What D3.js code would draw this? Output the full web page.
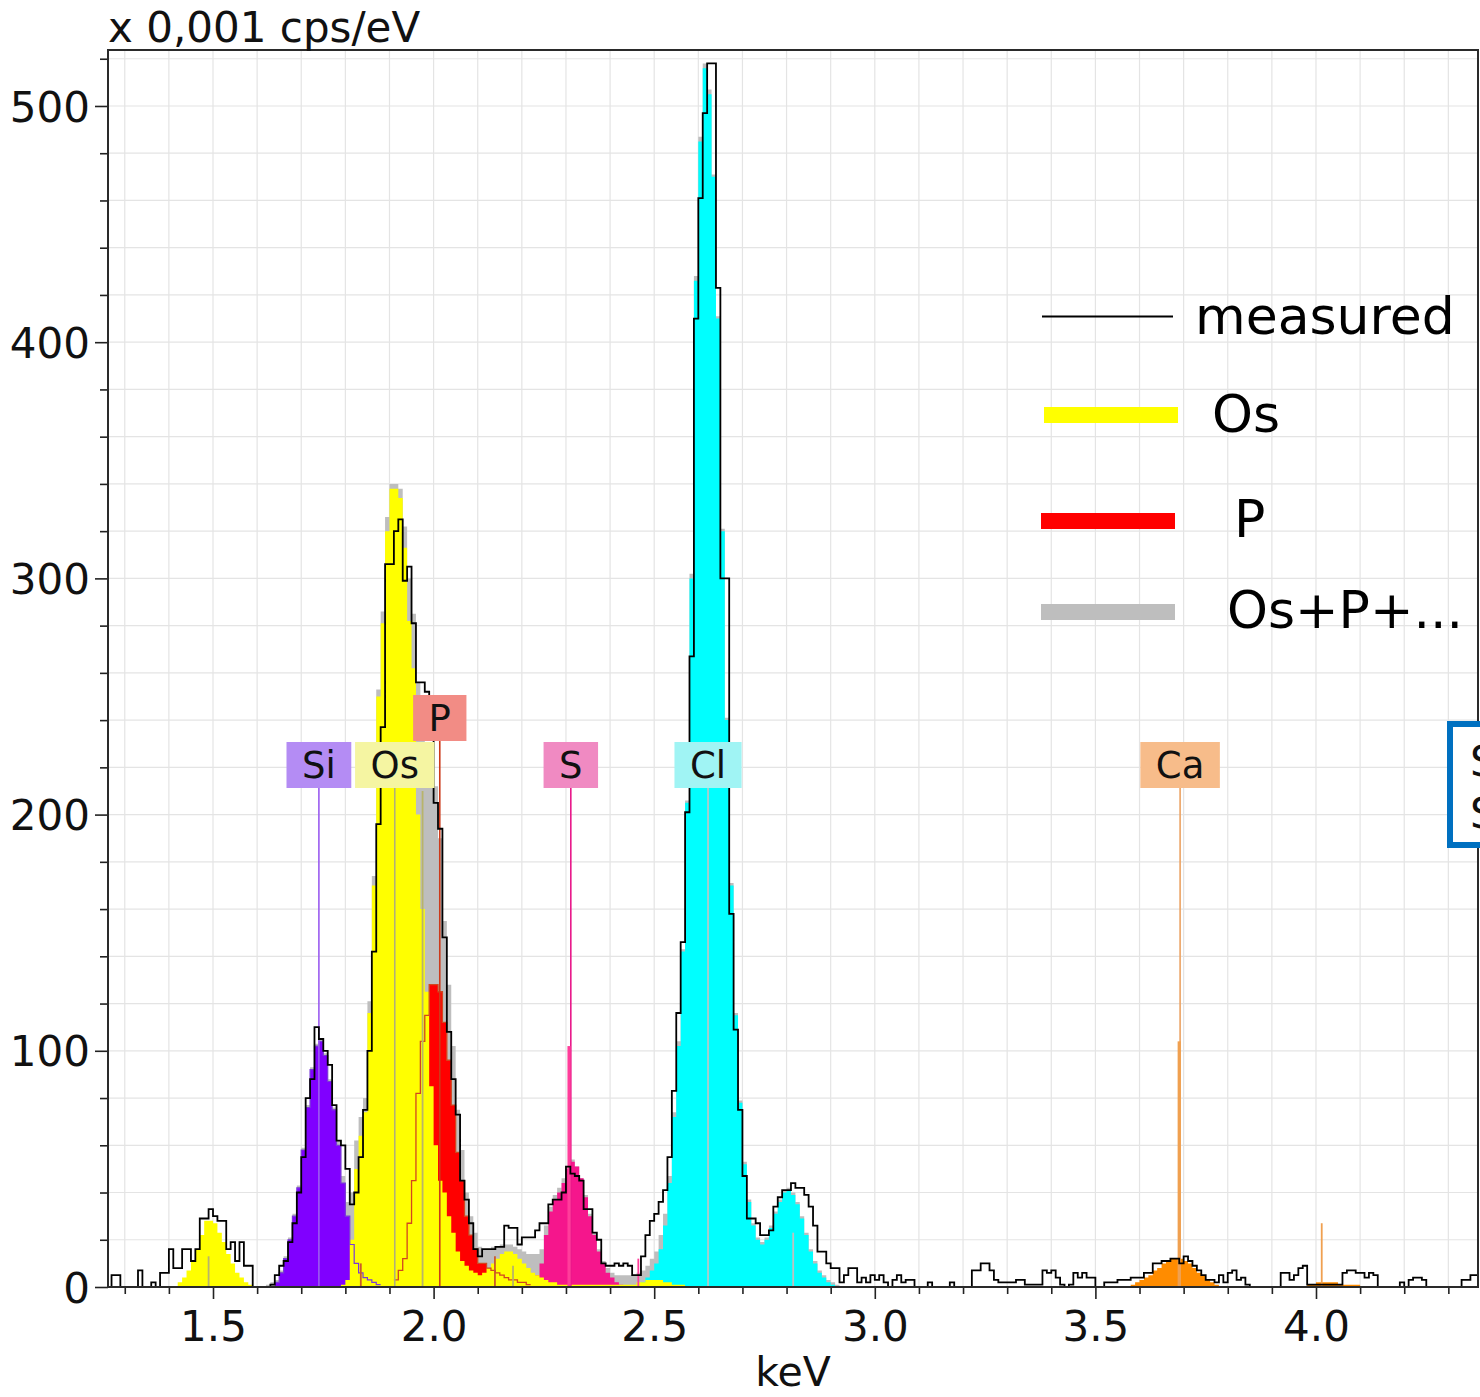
<!DOCTYPE html>
<html><head><meta charset="utf-8">
<script src="https://cdn.jsdelivr.net/npm/d3@7"></script>
<style>body{margin:0;background:#fff}svg{display:block}</style>
</head><body>
<svg id="chart" width="1480" height="1397"></svg>
<script>
// ---------- DATA ----------
const channelStartKeV = 1.26;
const channelWidthKeV = 0.01;

// measured spectrum (x 0.001 cps/eV), one value per 10 eV channel from 1.26 keV
const measured = [
0,5,5,0,0,0,0,7,0,0,
2,0,6,6,16,8,8,16,16,11,
16,29,29,33,30,28,28,16,19,11,
19,9,9,0,0,0,0,1,5,9,
11,19,27,40,55,80,88,110,105,100,
94,77,62,60,50,35,40,55,75,100,
142,196,237,306,306,320,325,299,305,281,
256,256,252,250,205,194,148,108,88,73,
45,37,27,16,13,16,16,16,17,17,
26,25,25,18,21,21,21,24,27,27,
35,37,37,40,51,48,47,45,33,33,
23,20,10,9,9,10,9,10,9,5,
5,13,22,28,31,36,41,55,83,116,
146,201,267,410,461,497,518,518,423,300,
300,158,109,75,47,29,29,27,22,22,
24,34,38,41,41,44,42,42,39,34,
26,15,15,10,8,8,2,5,8,8,
2,4,2,5,3,5,2,0,3,5,
2,3,3,0,0,0,2,0,0,0,
0,2,0,0,0,0,7,7,10,10,
7,3,2,2,2,2,3,3,1,1,
1,1,7,6,7,4,1,0,1,6,
4,6,4,4,0,0,2,2,2,3,
3,3,4,4,4,6,6,10,10,11,
11,12,12,10,13,11,9,7,5,3,
3,2,5,2,6,7,3,4,1,0,
0,0,0,0,0,0,6,6,3,5,
8,9,1,1,1,1,1,1,1,1,
6,7,7,6,6,4,6,5,0,0,
0,0,0,2,0,3,4,4,3,0,
0,0,0,0,0,0,0,3,3,5,
5,5];

// fitted total (Os+P+...)
const totalStartKeV = 1.60;
const totalFit = [
0,0,1,2,3,7,13,21,31,43,
59,77,93,103,105,99,88,76,62,47,
36,40,62,72,80,121,174,253,286,326,
340,340,338,322,300,285,256,240,228,215,
212,190,155,128,102,75,58,40,30,23,
17,16,16,17,17,18,18,18,17,16,
15,14,14,14,16,26,34,39,42,46,
51,54,51,46,39,31,23,16,11,8,
6,5,5,5,5,5,6,7,9,12,
15,22,31,47,74,104,143,206,302,428,
487,518,507,471,411,321,241,171,116,79,
53,37,27,21,19,21,26,32,37,41,
42,40,36,30,23,16,11,7,5,3,
2,1];

const osStartKeV = 1.40;
const osFit = [
0,0,2,4,7,11,16,22,28,28,
27,23,19,14,10,6,4,2,1,0,
0,0,0,0,0,0,0,0,0,0,
0,0,0,0,0,0,0,0,0,1,
3,20,50,64,74,116,170,250,281,320,
338,338,334,313,282,262,200,160,125,85,
60,45,40,30,23,15,11,9,7,6,
5,6,8,10,12,14,15,15,14,12,
10,8,6,5,4,3,2,2,1,1,
1,1,1,1,1,1,1,1,1,1,
1,1,1,1,1,1,2,2,3,3,
3,3,2,2,1,1,1];

const siStartKeV = 1.64;
const siFit = [2,6,12,20,30,42,58,76,92,102,104,98,87,75,60,44,30,18,10,6,4,3,2,1];

const pStartKeV = 1.91;
const pFit = [3,7,12,27,45,82,104,115,128,128,125,112,96,77,57,45,30,22,16,10,10,8,7,6,5,4,3,3,2,2,1];

const sStartKeV = 2.22;
const sFit = [2,5,10,22,32,37,40,44,50,53,51,46,38,30,22,15,10,6,4,2,1];

const clStartKeV = 2.46;
const clFit = [
1,2,4,7,10,16,26,44,72,102,
142,205,300,426,485,516,505,470,410,320,
240,170,115,78,52,36,26,20,18,20,
25,31,36,40,41,39,35,29,22,15,
10,6,4,2,1];

const caStartKeV = 3.58;
const caFit = [
1,2,3,4,5,7,8,10,11,12,
12,12,11,10,8,6,5,3,2,1,
0,0,0,0,0,0,0,0,0,0,
0,0,0,0,0,0,0,0,0,0,
1,1,2,2,2,2,2,1,1,1,1,1];

// element labels
const labelNames = ["Si","Os","P","S","Cl","Ca"];
const labelKeV   = [1.740, 1.912, 2.014, 2.311, 2.622, 3.692];

// characteristic line sticks
const stickKeV    = [1.490, 1.835, 1.975, 2.139, 2.180, 2.307, 2.464, 2.815, 3.690, 4.013];
const stickHeight = [13, 10, 210, 13, 9, 102, 12, 23, 104, 27];
const stickElem   = ["Os","P","Os","P","Os","S","S","Cl","Ca","Ca"];

// axis ticks
const yMajorTicks = [0,100,200,300,400,500];
const xMajorTicks = [1.5,2.0,2.5,3.0,3.5,4.0];

const legendNames = ["measured","Os","P","Os+P+..."];

// ---------- STYLE ----------
const fillColor  = {Si:"#8000ff", Os:"#ffff00", P:"#ff0000", S:"#f5168c", Cl:"#00ffff", Ca:"#ff8c00", total:"#bebebe"};
const boxColor   = {Si:"#b48cf4", Os:"#f5f5a2", P:"#f28c85", S:"#f08ac2", Cl:"#a0f4f4", Ca:"#f7bc8a"};
const markColor  = {Si:"#9a5cf0", Os:"#b0b07a", P:"#cc3a1a", S:"#e8188a", Cl:"#c4c4c4", Ca:"#eba262"};
const stickColor = {Os:"#b8b46a", P:"#cc5a2a", S:"#ff3d9a", Cl:"#c0c0c0", Ca:"#f0a050"};
const FONT = '"DejaVu Sans", Verdana, sans-serif';

// ---------- CHART ----------
const svg = d3.select("#chart");
const X0 = 108, X1 = 1478, Y0 = 1287, Y1 = 50;
const x = d3.scaleLinear().domain([1.2620, 4.3672]).range([X0, X1]);
const y = d3.scaleLinear().domain([0, 523.7]).range([Y0, Y1]);

svg.append("defs").append("clipPath").attr("id","plotclip")
  .append("rect").attr("x",X0).attr("y",Y1).attr("width",X1-X0).attr("height",Y0-Y1);

// grid
const grid = svg.append("g").attr("stroke","#e4e4e4").attr("stroke-width",1.2);
d3.range(13,44).map(i=>i/10).forEach(v=>{
  grid.append("line").attr("x1",x(v)).attr("x2",x(v)).attr("y1",Y1).attr("y2",Y0);
});
d3.range(20,521,20).forEach(v=>{
  grid.append("line").attr("x1",X0).attr("x2",X1).attr("y1",y(v)).attr("y2",y(v));
});

function stepPoints(arr, startKeV){
  const pts = arr.map((v,i)=>[startKeV + i*channelWidthKeV, v]);
  pts.push([startKeV + arr.length*channelWidthKeV, arr[arr.length-1]]);
  return pts;
}
const area = d3.area().curve(d3.curveStepAfter).x(d=>x(d[0])).y0(y(0)).y1(d=>y(d[1]));
const line = d3.line().curve(d3.curveStepAfter).x(d=>x(d[0])).y(d=>y(d[1]));

const plot = svg.append("g").attr("clip-path","url(#plotclip)");

// fills
const fills = [
  [totalFit, totalStartKeV, fillColor.total],
  [clFit, clStartKeV, fillColor.Cl],
  [sFit, sStartKeV, fillColor.S],
  [caFit, caStartKeV, fillColor.Ca],
  [siFit, siStartKeV, fillColor.Si],
  [pFit, pStartKeV, fillColor.P],
  [osFit, osStartKeV, fillColor.Os]
];
fills.forEach(([arr,start,col])=>{
  plot.append("path").attr("d", area(stepPoints(arr,start))).attr("fill",col);
});
// outlines of partially hidden profiles
plot.append("path").attr("d", line(stepPoints(pFit,pStartKeV))).attr("fill","none")
  .attr("stroke","#d2461e").attr("stroke-width",1.3);
plot.append("path").attr("d", line(stepPoints(siFit,siStartKeV))).attr("fill","none")
  .attr("stroke","#7a3ad8").attr("stroke-width",1.2);

// element labels (layout)
const labelG = svg.append("g");
const placed = [];
const boxH = 46, rowBase = 788;
const labelInfo = labelNames.map((name,i)=>{
  const cx = x(labelKeV[i]);
  const t = labelG.append("text").text(name).attr("font-family",FONT).attr("font-size",37);
  const w = t.node().getComputedTextLength() + 31;
  t.remove();
  let row = 0;
  while (placed.some(p=>p.row===row && (Math.min(p.x1,cx+w/2)-Math.max(p.x0,cx-w/2))>4)) row++;
  placed.push({x0:cx-w/2, x1:cx+w/2, row});
  return {name, cx, w, bottom: rowBase - row*(boxH+1)};
});

// marker lines from label to baseline
labelInfo.forEach(d=>{
  plot.append("line").attr("x1",d.cx).attr("x2",d.cx).attr("y1",d.bottom).attr("y2",y(0))
    .attr("stroke",markColor[d.name]).attr("stroke-width",1.6);
});
// sticks
stickKeV.forEach((e,i)=>{
  plot.append("line").attr("x1",x(e)).attr("x2",x(e)).attr("y1",y(stickHeight[i])).attr("y2",y(0))
    .attr("stroke",stickColor[stickElem[i]]).attr("stroke-width", stickHeight[i]>50 && stickElem[i]!=="Os" ? 3.2 : 1.8);
});

// measured
plot.append("path").attr("d", line(stepPoints(measured, channelStartKeV)))
  .attr("fill","none").attr("stroke","#000").attr("stroke-width",1.8);

// axes
const axY = svg.append("g").attr("transform",`translate(${X0},0)`)
  .call(d3.axisLeft(y).tickValues(yMajorTicks).tickSize(13).tickPadding(5).tickFormat(d3.format("d")));
svg.append("g").attr("transform",`translate(${X0},0)`)
  .call(d3.axisLeft(y).tickValues(d3.range(20,521,20).filter(v=>v%100!==0)).tickSize(8).tickFormat(""));
const axX = svg.append("g").attr("transform",`translate(0,${Y0})`)
  .call(d3.axisBottom(x).tickValues(xMajorTicks).tickSize(12).tickPadding(12).tickFormat(d3.format(".1f")));
svg.append("g").attr("transform",`translate(0,${Y0})`)
  .call(d3.axisBottom(x).tickValues(d3.range(13,44).map(i=>i/10).filter(v=>Math.abs(v*2-Math.round(v*2))>1e-6)).tickSize(7).tickFormat(""));
svg.selectAll(".domain").remove();
svg.selectAll(".tick line").attr("stroke","#222").attr("stroke-width",1.6);
svg.selectAll(".tick text").attr("font-family",FONT).attr("font-size",42).attr("fill","#111");
axY.selectAll(".tick text").attr("dy","0.36em");

// frame
svg.append("rect").attr("x",X0).attr("y",Y1).attr("width",X1-X0).attr("height",Y0-Y1)
  .attr("fill","none").attr("stroke","#2a2a2a").attr("stroke-width",2);

// titles
svg.append("text").attr("x",108).attr("y",42).attr("font-family",FONT).attr("font-size",42)
  .attr("fill","#111").text("x 0,001 cps/eV");
svg.append("text").attr("x",(X0+X1)/2).attr("y",1386).attr("text-anchor","middle")
  .attr("font-family",FONT).attr("font-size",41).attr("fill","#111").text("keV");

// label boxes
labelInfo.forEach(d=>{
  labelG.append("rect").attr("x",d.cx-d.w/2).attr("y",d.bottom-boxH).attr("width",d.w).attr("height",boxH)
    .attr("fill",boxColor[d.name]);
  labelG.append("text").attr("x",d.cx).attr("y",d.bottom-boxH/2).attr("dy","0.36em")
    .attr("text-anchor","middle").attr("font-family",FONT).attr("font-size",37).attr("fill","#111").text(d.name);
});

// legend
const lg = svg.append("g");
lg.append("line").attr("x1",1042).attr("x2",1173).attr("y1",316.5).attr("y2",316.5).attr("stroke","#000").attr("stroke-width",2);
lg.append("rect").attr("x",1044).attr("y",407).attr("width",134).attr("height",16).attr("fill",fillColor.Os);
lg.append("rect").attr("x",1041).attr("y",513).attr("width",134).attr("height",16).attr("fill",fillColor.P);
lg.append("rect").attr("x",1041).attr("y",604).attr("width",134).attr("height",16).attr("fill",fillColor.total);
const legPos = [[1195,334],[1212,432],[1234,537],[1227,628]];
legendNames.forEach((n,i)=>{
  lg.append("text").attr("x",legPos[i][0]).attr("y",legPos[i][1]).attr("font-family",FONT)
    .attr("font-size",52).attr("fill","#000").text(n);
});

// partially visible annotation box at the right edge (cut off in the original)
svg.append("rect").attr("x",1450).attr("y",724).attr("width",80).attr("height",121)
  .attr("fill","#fff").attr("stroke","#0070c0").attr("stroke-width",6);
svg.append("text").attr("x",1470).attr("y",776).attr("font-family",FONT).attr("font-size",42).attr("fill","#111").text("S");
svg.append("text").attr("x",1470).attr("y",828).attr("font-family",FONT).attr("font-size",42).attr("fill","#111").text("S");
</script>
</body></html>
